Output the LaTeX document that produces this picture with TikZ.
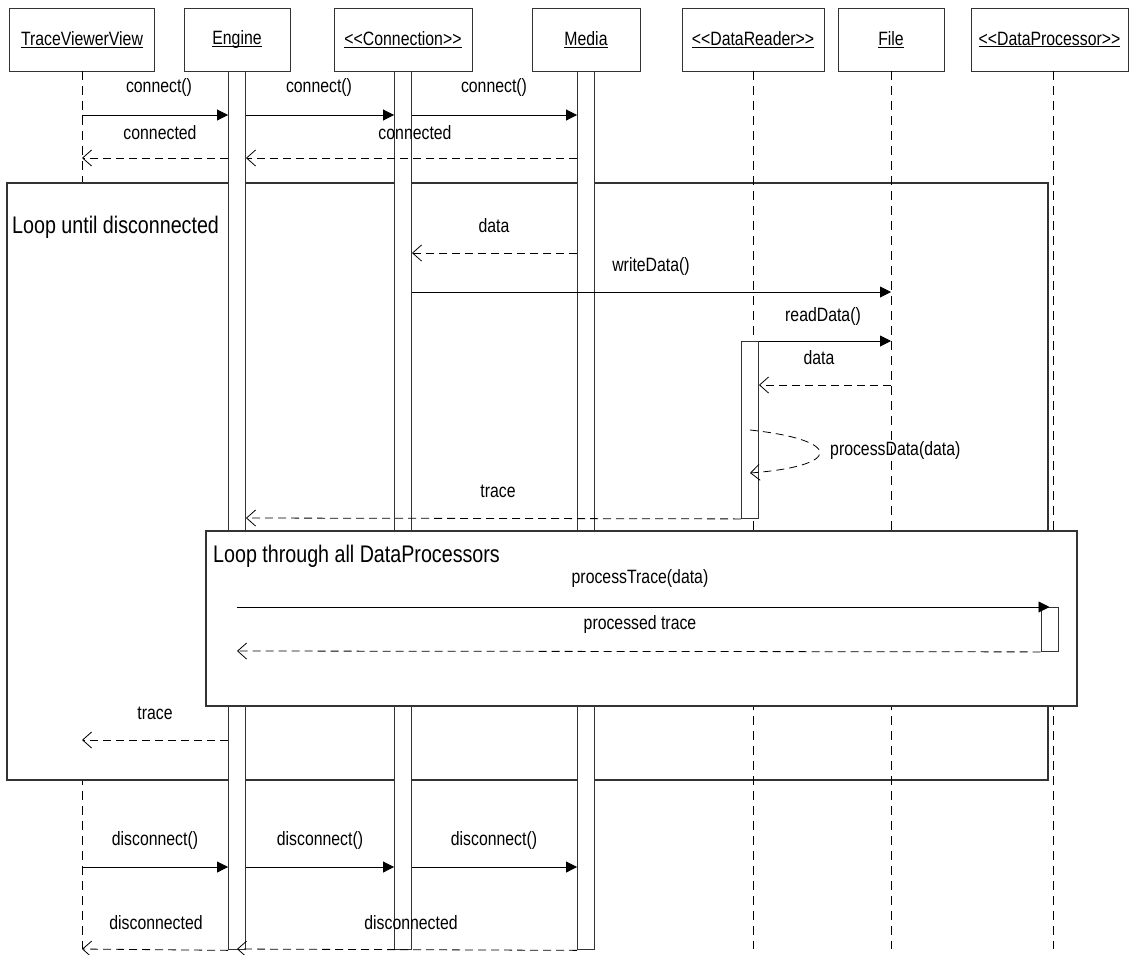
\documentclass[tikz,border=0pt]{standalone}
\usepackage{fontspec}
\setmainfont{Liberation Sans}[FakeStretch=0.82]
\usepackage{tikz}
\usetikzlibrary{arrows.meta}

\newcommand{\stereo}[1]{<\kern0pt<#1>\kern0pt>}
\newcommand{\objname}[1]{\underline{\smash{#1}}\vphantom{#1}}

\tikzset{
  head/.style={draw=black!80, line width=0.9pt, fill=white, minimum height=63, inner sep=0pt,
    font=\fontsize{19.3}{21}\selectfont},
  actbar/.style={draw=black!80, line width=0.9pt, fill=white, minimum width=17, inner sep=0pt},
  life/.style={line width=0.8pt, dash pattern=on 9pt off 6pt},
  call/.style={line width=0.9pt, -{Triangle[length=11pt,width=11pt]}},
  reply/.style={line width=0.8pt, dash pattern=on 8pt off 5pt, -{Straight Barb[length=9pt,width=16pt]}},
  msg/.style={font=\fontsize{19.3}{21}\selectfont, inner sep=0pt},
  loopframe/.style={draw=black!80, line width=1.6pt, fill=white, inner sep=0pt},
  looplabel/.style={font=\fontsize{24}{26}\selectfont, inner sep=0pt, anchor=west}
}

\begin{document}
\begin{tikzpicture}[x=1pt,y=-1pt]
\useasboundingbox (0,0) rectangle (1129,954);

% objects
\node[head, minimum width=145] (tvv) at (82,39.5) {\objname{TraceViewerView}};
\node[head, minimum width=106] (eng) at (237,39.5) {\objname{Engine}};
\node[head, minimum width=138] (conn) at (403,39.5) {\objname{\stereo{Connection}}};
\node[head, minimum width=108] (media) at (586,39.5) {\objname{Media}};
\node[head, minimum width=142] (reader) at (753,39.5) {\objname{\stereo{DataReader}}};
\node[head, minimum width=106] (file) at (891,39.5) {\objname{File}};
\node[head, minimum width=157] (proc) at (1049.5,39.5) {\objname{\stereo{DataProcessor}}};

\draw[life] (tvv.south) -- (tvv.south |- 0,949);

% outer loop
\node[loopframe, minimum width=1041, minimum height=597] (outerloop) at (527.5,481.5) {};
\node[looplabel] (outerlbl) at (12,227) {Loop until disconnected};

% lifelines and activations
\draw[life] (reader.south) -- (reader.south |- 0,949);
\draw[life] (file.south) -- (file.south |- 0,949);
\draw[life] ([xshift=3.5pt]proc.south) -- ([xshift=3.5pt]proc.south |- 0,949);
\node[actbar, minimum height=878, anchor=north] (engbar) at (eng.south) {};
\node[actbar, minimum height=878, anchor=north] (connbar) at (conn.south) {};
\node[actbar, minimum height=878, anchor=north] (mediabar) at (media.south) {};
\node[actbar, minimum height=177, anchor=north] (readbar) at (750,341) {};

% inner loop
\node[loopframe, minimum width=871, minimum height=175] (innerloop) at (641.5,618.5) {};
\node[looplabel] (innerlbl) at (213,556) {Loop through all DataProcessors};
\node[actbar, minimum height=44, anchor=north] (procbar) at (proc.south |- 0,607) {};

% connect
\node[msg] (c1) at (159,88) {connect()};
\node[msg] (c2) at (319,88) {connect()};
\node[msg] (c3) at (494,88) {connect()};
\draw[call] (tvv.south |- 0,115) -- (engbar.west |- 0,115);
\draw[call] (engbar.east |- 0,115) -- (connbar.west |- 0,115);
\draw[call] (connbar.east |- 0,115) -- (mediabar.west |- 0,115);
\node[msg] (cd1) at (160,133) {connected};
\node[msg] (cd2) at (415,133) {connected};
\draw[reply] (mediabar.west |- 0,158) -- (engbar.east |- 0,158);
\draw[reply] (engbar.west |- 0,158) -- (tvv.south |- 0,158);

% data flow
\node[msg] (d1) at (494,226) {data};
\draw[reply] (mediabar.west |- 0,253) -- (connbar.east |- 0,253);
\node[msg] (wd) at (651,266) {writeData()};
\draw[call] (connbar.east |- 0,292) -- (file.south |- 0,292);
\node[msg] (rd) at (823,316) {readData()};
\draw[call] (readbar.north east) -- (file.south |- 0,341);
\node[msg] (d2) at (819,358) {data};
\draw[reply] (file.south |- 0,385) -- (readbar.east |- 0,385);
\node[msg, anchor=west] (pd) at (830,450) {processData(data)};
\draw[reply] (readbar.center |- 0,430) .. controls (843,440) and (843,466) .. (readbar.center |- 0,473);
\node[msg] (t1) at (498,491) {trace};
\draw[reply] (readbar.south west) -- (engbar.east |- 0,518);

% processors
\node[msg] (pt) at (640,578) {processTrace(data)};
\draw[call] (engbar |- 0,607) -- (procbar.north);
\node[msg] (ptd) at (640,624) {processed trace};
\draw[reply] (procbar.south west) -- (engbar |- 0,651);
\node[msg] (t2) at (155,713) {trace};
\draw[reply] (engbar.west |- 0,740) -- (tvv.south |- 0,740);

% disconnect
\node[msg] (dc1) at (155,840) {disconnect()};
\node[msg] (dc2) at (320,840) {disconnect()};
\node[msg] (dc3) at (494,840) {disconnect()};
\draw[call] (tvv.south |- 0,867) -- (engbar.west |- 0,867);
\draw[call] (engbar.east |- 0,867) -- (connbar.west |- 0,867);
\draw[call] (connbar.east |- 0,867) -- (mediabar.west |- 0,867);
\node[msg] (dcd1) at (156,923) {disconnected};
\node[msg] (dcd2) at (411,923) {disconnected};
\draw[reply] (mediabar.south west) -- (engbar |- 0,949);
\draw[reply] (engbar.south west) -- (tvv.south |- 0,949);
\end{tikzpicture}
\end{document}
